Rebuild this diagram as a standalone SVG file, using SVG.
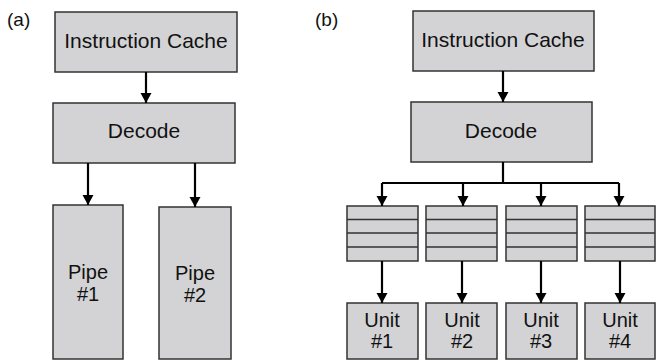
<svg xmlns="http://www.w3.org/2000/svg" width="658" height="360" viewBox="0 0 658 360">
<defs>
<marker id="ah" markerWidth="12" markerHeight="12" refX="10" refY="5.5" orient="auto" markerUnits="userSpaceOnUse">
<path d="M0,0 L10,5.5 L0,11 Z" fill="#000"/>
</marker>
<style>
.box{fill:#d3d3d5;stroke:#333;stroke-width:1.5}
.row{stroke:#333;stroke-width:1.5;fill:none}
.t{font-family:"Liberation Sans",Arial,sans-serif;fill:#111;text-anchor:middle}
.big{font-size:21px}
.mid{font-size:20px}
.lab{font-family:"Liberation Sans",Arial,sans-serif;font-size:19px;fill:#111}
.c{stroke:#000;stroke-width:2.2;fill:none}
.a{marker-end:url(#ah)}
</style>
</defs>
<rect width="658" height="360" fill="#fff"/>
<text class="lab" x="7" y="26">(a)</text>
<text class="lab" x="315" y="26">(b)</text>

<g id="a-icache"><rect class="box" x="55" y="12" width="182" height="60"/><text class="t big" x="146" y="48">Instruction Cache</text></g>
<g id="a-decode"><rect class="box" x="53" y="103" width="182" height="60"/><text class="t big" x="144" y="138">Decode</text></g>
<g id="a-pipe1"><rect class="box" x="53" y="205" width="70" height="154"/><text class="t mid" x="88" y="279">Pipe</text><text class="t mid" x="88" y="301">#1</text></g>
<g id="a-pipe2"><rect class="box" x="159" y="207" width="72" height="152"/><text class="t mid" x="195" y="280">Pipe</text><text class="t mid" x="195" y="302">#2</text></g>

<g id="b-icache"><rect class="box" x="413" y="11" width="181" height="60"/><text class="t big" x="503" y="47">Instruction Cache</text></g>
<g id="b-decode"><rect class="box" x="411" y="102" width="181" height="60"/><text class="t big" x="501" y="138">Decode</text></g>

<g id="b-q1"><rect class="box" x="347" y="206" width="71" height="55"/><path class="row" d="M347,219.5H418M347,233H418M347,247H418"/></g>
<g id="b-q2"><rect class="box" x="426" y="206" width="71" height="55"/><path class="row" d="M426,219.5H497M426,233H497M426,247H497"/></g>
<g id="b-q3"><rect class="box" x="506" y="206" width="71" height="55"/><path class="row" d="M506,219.5H577M506,233H577M506,247H577"/></g>
<g id="b-q4"><rect class="box" x="585" y="206" width="70" height="55"/><path class="row" d="M585,219.5H655M585,233H655M585,247H655"/></g>

<g id="b-u1"><rect class="box" x="347" y="303" width="71" height="56"/><text class="t mid" x="382" y="327">Unit</text><text class="t mid" x="382" y="348">#1</text></g>
<g id="b-u2"><rect class="box" x="426" y="303" width="71" height="56"/><text class="t mid" x="462" y="327">Unit</text><text class="t mid" x="462" y="348">#2</text></g>
<g id="b-u3"><rect class="box" x="506" y="303" width="71" height="56"/><text class="t mid" x="541" y="327">Unit</text><text class="t mid" x="541" y="348">#3</text></g>
<g id="b-u4"><rect class="box" x="585" y="303" width="70" height="56"/><text class="t mid" x="620" y="327">Unit</text><text class="t mid" x="620" y="348">#4</text></g>

<g id="connectors">
<path class="c a" d="M146,72V103"/>
<path class="c a" d="M88,163V205"/>
<path class="c a" d="M195,163V207"/>
<path class="c a" d="M503,71V102"/>
<path class="c" d="M503,162V183M382,183H619"/>
<path class="c a" d="M382,183V206"/>
<path class="c a" d="M463,183V206"/>
<path class="c a" d="M541,183V206"/>
<path class="c a" d="M619,183V206"/>
<path class="c a" d="M382,261V303"/>
<path class="c a" d="M462,261V303"/>
<path class="c a" d="M541,261V303"/>
<path class="c a" d="M620,261V303"/>
</g>
</svg>
